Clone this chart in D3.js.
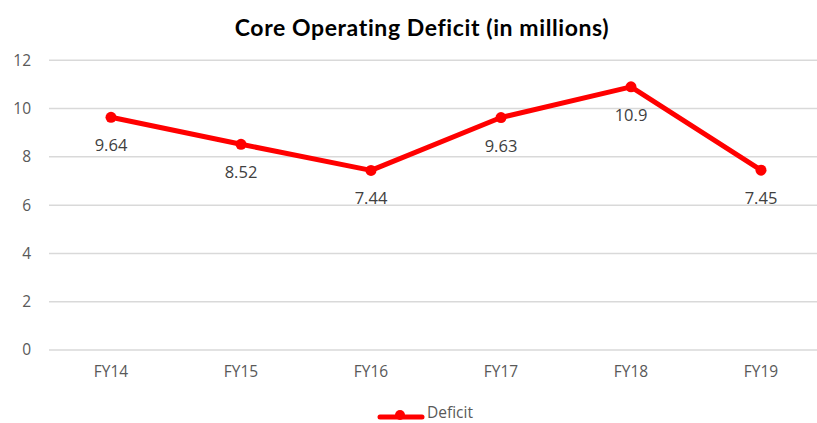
<!DOCTYPE html>
<html>
<head>
<meta charset="utf-8">
<script src="https://cdn.jsdelivr.net/npm/d3@7"></script>
<style>
  body { margin: 0; background: #fff; }
  svg { display: block; }
</style>
</head>
<body>
<script>
  // chart data
  const years = ['FY14', 'FY15', 'FY16', 'FY17', 'FY18', 'FY19'];
  const deficit = [9.64, 8.52, 7.44, 9.63, 10.9, 7.45];
  const yTicks = [0, 2, 4, 6, 8, 10, 12];

  const width = 817, height = 423;
  const font = "'Open Sans', 'Noto Sans', sans-serif";

  let svg = d3.select('body').append('svg')
    .attr('width', width)
    .attr('height', height);

  svg.append('rect')
    .attr('width', width)
    .attr('height', height)
    .attr('fill', '#fff');

  let x = d3.scaleBand()
    .domain(years)
    .range([46, 826]);

  let y = d3.scaleLinear()
    .domain([0, 12])
    .range([350, 60.3]);

  // gridlines
  svg.selectAll('.grid')
    .data(yTicks)
    .enter()
    .append('line')
      .attr('x1', 49)
      .attr('x2', 817)
      .attr('y1', d => y(d))
      .attr('y2', d => y(d))
      .attr('stroke', '#d9d9d9')
      .attr('stroke-width', 1.5);

  // y axis labels
  let yAxis = d3.axisLeft(y).tickValues(yTicks).tickSize(0).tickPadding(0);
  let gy = svg.append('g')
    .attr('transform', 'translate(31, 0)')
    .call(yAxis);
  gy.select('.domain').remove();
  gy.selectAll('text')
    .style('font-family', font)
    .style('font-size', '15.5px')
    .attr('fill', '#595959');

  // x axis labels
  let xAxis = d3.axisBottom(x).tickSize(0).tickPadding(0);
  let gx = svg.append('g')
    .attr('transform', 'translate(0, 366)')
    .call(xAxis);
  gx.select('.domain').remove();
  gx.selectAll('text')
    .style('font-family', font)
    .style('font-size', '15.5px')
    .attr('fill', '#595959');

  let cx = (d, i) => x(years[i]) + x.bandwidth() / 2;

  // line
  let line = d3.line()
    .x((d, i) => cx(d, i))
    .y(d => y(d));

  svg.append('path')
    .datum(deficit)
    .attr('d', line)
    .attr('fill', 'none')
    .attr('stroke', '#ff0000')
    .attr('stroke-width', 5)
    .attr('stroke-linejoin', 'round')
    .attr('stroke-linecap', 'round');

  svg.selectAll('.pt')
    .data(deficit)
    .enter()
    .append('circle')
      .attr('cx', cx)
      .attr('cy', d => y(d))
      .attr('r', 5.5)
      .attr('fill', '#ff0000');

  // data labels
  svg.selectAll('.lbl')
    .data(deficit)
    .enter()
    .append('text')
      .attr('x', cx)
      .attr('y', d => y(d) + 34)
      .attr('text-anchor', 'middle')
      .style('font-family', font)
      .style('font-size', '16.5px')
      .attr('fill', '#404040')
      .text(d => d);

  // title
  svg.append('text')
    .attr('x', 422)
    .attr('y', 36)
    .attr('text-anchor', 'middle')
    .style('font-family', "'Lato', sans-serif")
    .style('font-weight', 'bold')
    .style('font-size', '23px')
    .style('letter-spacing', '0.6px')
    .attr('fill', '#000')
    .text('Core Operating Deficit (in millions)');

  // legend
  svg.append('line')
    .attr('x1', 380)
    .attr('x2', 422)
    .attr('y1', 417)
    .attr('y2', 417)
    .attr('stroke', '#ff0000')
    .attr('stroke-width', 5)
    .attr('stroke-linecap', 'round');
  svg.append('circle')
    .attr('cx', 400)
    .attr('cy', 415)
    .attr('r', 5)
    .attr('fill', '#ff0000');
  svg.append('text')
    .attr('x', 427)
    .attr('y', 418)
    .style('font-family', font)
    .style('font-size', '15.5px')
    .attr('fill', '#595959')
    .text('Deficit');
</script>
</body>
</html>
